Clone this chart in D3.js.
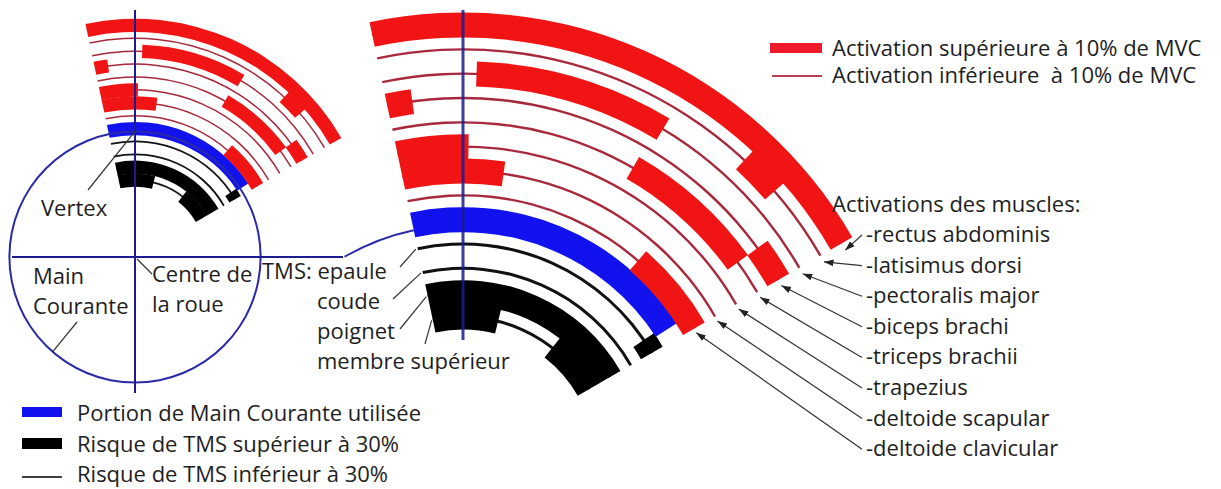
<!DOCTYPE html>
<html>
<head>
<meta charset="utf-8">
<script src="https://cdn.jsdelivr.net/npm/d3@7"></script>
<style>
  body { margin: 0; background: #fff; }
  svg text { font-family: "Open Sans", sans-serif; font-size: 22px; fill: #1e1e1e; white-space: pre; }
</style>
</head>
<body>
<svg width="1221" height="489"></svg>
<script>
// angles in degrees, clockwise from the vertex (top of the wheel)
const pushPhase = [-12, 60];
const handrimUsed = [[-12, 57]];

// TMS rings, inner -> outer
const joints = ['membre supérieur', 'poignet', 'coude', 'epaule'];
const jointHighRisk = [[[-12, 14], [38, 60]], [[-12, 60]], [], [[56, 60]]];

// muscle rings, inner -> outer
const muscles = ['deltoide clavicular', 'deltoide scapular', 'trapezius', 'triceps brachii',
    'biceps brachi', 'pectoralis major', 'latisimus dorsi', 'rectus abdominis'];
const muscleHigh = [[[41, 60]], [[-12, 8]], [[-12, 1]], [[30, 54]],
    [[-12, -8], [54, 60]], [[2, 31]], [[43, 49]], [[-12, 60]]];

const mvcLegend = ['Activation supérieure à 10% de MVC', 'Activation inférieure  à 10% de MVC'];
const tmsLegend = ['Portion de Main Courante utilisée', 'Risque de TMS supérieur à 30%', 'Risque de TMS inférieur à 30%'];

const svg = d3.select('svg');

const rad = d3.scaleLinear().domain([0, 360]).range([0, 2 * Math.PI]);
const ringR = d3.scaleLinear().domain([0, 12]).range([145, 437]);
const wheelR = 237;
const thickW = 25;

const rings = [
    ...joints.map((name, i) => ({ name, idx: i, high: jointHighRisk[i], thin: '#111', thick: '#000' })),
    { name: 'main courante', idx: 4, high: handrimUsed, thin: null, thick: '#1212ee' },
    ...muscles.map((name, i) => ({ name, idx: i + 5, high: muscleHigh[i], thin: '#a8283c', thick: '#f01414' }))
];

const polar = (c, r, a) => [c[0] + r * Math.sin(rad(a)), c[1] - r * Math.cos(rad(a))];

const wheel = (c, k, big) => {
    const g = svg.append('g').attr('transform', `translate(${c[0]},${c[1]})`);
    const band = (i, a0, a1, w) => d3.arc()({
        innerRadius: ringR(i) * k - w / 2,
        outerRadius: ringR(i) * k + w / 2,
        startAngle: rad(a0),
        endAngle: rad(a1)
    });

    rings.forEach(d => {
        if (d.thin) {
            const w = d.thick === '#000' ? (big ? 3 : 1.8) : (big ? 2.4 : 1.5);
            g.append('path').attr('d', band(d.idx, pushPhase[0], pushPhase[1], w)).attr('fill', d.thin);
        }
        d.high.forEach(h => {
            g.append('path').attr('d', band(d.idx, h[0], h[1], thickW * k)).attr('fill', d.thick);
        });
    });

    // wheel / hand rim circle
    const wheelArc = d3.arc()({
        innerRadius: wheelR * k - 1,
        outerRadius: wheelR * k + 1,
        startAngle: rad(big ? -30 : 0),
        endAngle: rad(big ? -12 : 360)
    });
    g.append('path').attr('d', wheelArc).attr('fill', '#2a2aa8');
    return g;
};

// small wheel (left)
const cS = [135, 257];
const kS = 0.53;
wheel(cS, kS, false);
svg.append('line').attr('x1', cS[0]).attr('x2', cS[0]).attr('y1', 10).attr('y2', 393)
    .attr('stroke', '#1c1c90').attr('stroke-width', 2);
svg.append('line').attr('x1', 12).attr('x2', 343).attr('y1', cS[1]).attr('y2', cS[1])
    .attr('stroke', '#1c1c90').attr('stroke-width', 2);

// large wheel (zoom)
const cL = [463, 462];
wheel(cL, 1, true);
svg.append('line').attr('x1', cL[0]).attr('x2', cL[0]).attr('y1', 10).attr('y2', 340)
    .attr('stroke', '#1c1c90').attr('stroke-width', 3).attr('opacity', 0.85);

// arrow marker
svg.append('defs').append('marker')
    .attr('id', 'ah').attr('viewBox', '0 0 10 10').attr('refX', 10).attr('refY', 5)
    .attr('markerWidth', 8).attr('markerHeight', 8).attr('orient', 'auto')
    .append('path').attr('d', 'M0,1.5L10,5L0,8.5Z').attr('fill', '#222');

const leader = (p0, p1, arrow) => {
    const l = svg.append('line')
        .attr('x1', p0[0]).attr('y1', p0[1]).attr('x2', p1[0]).attr('y2', p1[1])
        .attr('stroke', '#333').attr('stroke-width', 1.2);
    if (arrow) l.attr('marker-end', 'url(#ah)');
};

const text = (s, x, y) => svg.append('text').attr('x', x).attr('y', y).text(s);

// small wheel labels
text('Vertex', 41, 216);
leader([88, 190], polar(cS, wheelR * kS, 0));
text('Main', 33, 284);
text('Courante', 33, 314);
leader([77, 322], polar(cS, wheelR * kS, -139));
text('Centre de', 152, 282);
text('la roue', 152, 312);
leader([cS[0] + 2, cS[1] + 2], [152, 274]);

// TMS labels
const tmsLabel = ['TMS: epaule', 'coude', 'poignet', 'membre supérieur'];
const tmsFrom = [[400, 267], [393, 299], [400, 329], [425, 344]];
tmsLabel.forEach((s, i) => {
    text(s, i === 0 ? 262 : 317, 279 + i * 30);
    leader(tmsFrom[i], polar(cL, ringR(3 - i), -12.5));
});

// muscle labels
text('Activations des muscles:', 832, 212);
muscles.slice().reverse().forEach((m, i) => {
    const y = 242 + i * 30.6;
    text('-' + m, 866, y);
    const idx = 12 - i;
    leader([862, y - 7], polar(cL, ringR(idx), 61), true);
});

// legend top right
svg.append('rect').attr('x', 770).attr('y', 43).attr('width', 52).attr('height', 10).attr('fill', '#ee1a2a');
svg.append('line').attr('x1', 772).attr('x2', 822).attr('y1', 76).attr('y2', 76)
    .attr('stroke', '#b84050').attr('stroke-width', 2);
mvcLegend.forEach((s, i) => text(s, 832, 56 + i * 27));

// legend bottom left
svg.append('rect').attr('x', 22).attr('y', 407).attr('width', 40).attr('height', 10).attr('fill', '#1212ee');
svg.append('rect').attr('x', 22).attr('y', 438).attr('width', 40).attr('height', 11).attr('fill', '#000');
svg.append('line').attr('x1', 22).attr('x2', 62).attr('y1', 477).attr('y2', 477)
    .attr('stroke', '#000').attr('stroke-width', 1.5);
tmsLegend.forEach((s, i) => text(s, 77, 421 + i * 30.5));
</script>
</body>
</html>
